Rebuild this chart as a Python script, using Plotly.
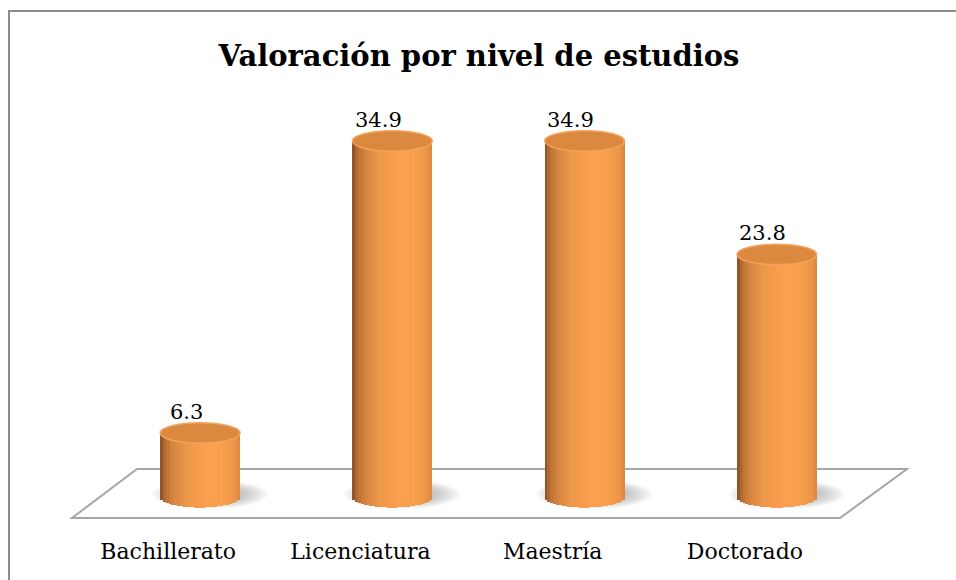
import math
import plotly.graph_objects as go

# ---- data ----
categories = ["Bachillerato", "Licenciatura", "Maestría", "Doctorado"]
values = [6.3, 34.9, 34.9, 23.8]
value_labels = ["6.3", "34.9", "34.9", "23.8"]
title_text = "Valoración por nivel de estudios"

# ---- geometry / style (pixels -> plot coordinates) ----
W, H = 956, 580
L_PX, R_PX, T_PX, B_PX = 104, 873, 89, 528
Y_MIN, Y_MAX = -3, 40
BAR_W = 0.415            # cylinder width in category units
ELL_H = 1.0              # half height of ellipse in y units
N_STRIPS = 28

def paper_x(px):
    return (px - L_PX) / (R_PX - L_PX)

def paper_y(py):
    return (B_PX - py) / (B_PX - T_PX)

def lerp_col(c1, c2, t):
    t = max(0.0, min(1.0, t))
    return "rgb(%d,%d,%d)" % tuple(round(a + (b - a) * t) for a, b in zip(c1, c2))

DARK = (128, 72, 30)
LIGHT = (250, 160, 78)

fig = go.Figure()

xs = list(range(len(categories)))

# cylinder bodies as vertical strips with shading
sw = BAR_W / N_STRIPS
for k in range(N_STRIPS):
    t = (k + 0.5) / N_STRIPS
    u = 2 * t - 1                      # -1..1 across the cylinder
    theta = math.asin(max(-1, min(1, u)))
    inten = math.cos(theta - 0.35)
    inten = max(0.0, inten) ** 0.6
    col = lerp_col(DARK, LIGHT, 0.15 + 0.85 * inten)
    depth = ELL_H * math.sqrt(max(0.0, 1 - u * u))
    fig.add_trace(go.Bar(
        x=xs,
        y=[v + depth for v in values],
        base=[-depth] * len(values),
        width=sw * 1.12,
        offset=-BAR_W / 2 + k * sw - sw * 0.06,
        marker=dict(color=col, line=dict(width=0)),
        hoverinfo="skip",
        showlegend=False,
    ))

shapes = []
# floor
fl = [(72, 518), (840, 518), (907, 469), (137, 469)]
path = "M %f %f " % (paper_x(fl[0][0]), paper_y(fl[0][1]))
for px, py in fl[1:]:
    path += "L %f %f " % (paper_x(px), paper_y(py))
path += "Z"
shapes.append(dict(type="path", xref="paper", yref="paper", path=path,
                   line=dict(color="#A6A6A6", width=2), fillcolor="white", layer="below"))

# shadows (soft, layered ellipses)
n_sh = 9
for i, v in zip(xs, values):
    for j in range(n_sh):
        s = 1.0 - j * 0.07
        shapes.append(dict(type="circle", xref="x", yref="y", layer="below",
                           x0=i + 0.05 - BAR_W * 0.72 * s, x1=i + 0.05 + BAR_W * 0.72 * s,
                           y0=0.3 - 1.4 * s, y1=0.3 + 1.4 * s,
                           fillcolor="rgba(110,110,110,0.07)", line=dict(width=0)))

# top faces
for i, v in zip(xs, values):
    shapes.append(dict(type="circle", xref="x", yref="y", layer="above",
                       x0=i - BAR_W / 2, x1=i + BAR_W / 2,
                       y0=v - ELL_H, y1=v + ELL_H,
                       fillcolor="#DC8940", line=dict(color="#F4A35C", width=1.5)))

# chart border (top & left visible)
shapes.append(dict(type="line", xref="paper", yref="paper",
                   x0=paper_x(8), x1=paper_x(960), y0=paper_y(11), y1=paper_y(11),
                   line=dict(color="#8C8C8C", width=2)))
shapes.append(dict(type="line", xref="paper", yref="paper",
                   x0=paper_x(9), x1=paper_x(9), y0=paper_y(11), y1=paper_y(585),
                   line=dict(color="#8C8C8C", width=2)))

annotations = []
for i, v, lab in zip(xs, values, value_labels):
    annotations.append(dict(x=i, y=v, xref="x", yref="y", text=lab, showarrow=False,
                            xshift=-14, yshift=21, yanchor="middle",
                            font=dict(family="DejaVu Serif", size=21, color="black")))

fig.update_layout(
    width=W, height=H,
    margin=dict(l=L_PX, r=W - R_PX, t=T_PX, b=H - B_PX),
    paper_bgcolor="white", plot_bgcolor="rgba(0,0,0,0)",
    barmode="overlay",
    bargap=0,
    hovermode=False,
    title=dict(text="<b>" + title_text + "</b>", x=479 / W, xanchor="center",
               y=1 - 56 / H, yanchor="middle",
               font=dict(family="DejaVu Serif", size=29, color="black")),
    xaxis=dict(range=[-0.5, 3.5], tickmode="array", tickvals=xs, ticktext=categories,
               showgrid=False, zeroline=False, showline=False, ticks="",
               ticklabelshift=-32, ticklabelstandoff=8, fixedrange=True,
               tickfont=dict(family="DejaVu Serif", size=22, color="black")),
    yaxis=dict(range=[Y_MIN, Y_MAX], visible=False, fixedrange=True),
    shapes=shapes,
    annotations=annotations,
    font=dict(family="DejaVu Serif"),
)

fig.write_html("out.html", config={"displayModeBar": False},
               post_script="document.body.style.margin='0';")
